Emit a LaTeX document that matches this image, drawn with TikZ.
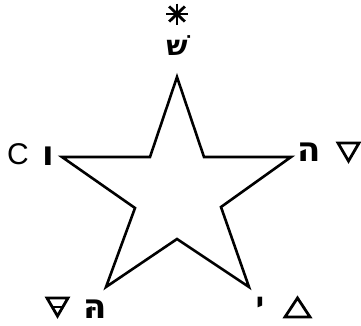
\documentclass[tikz,border=0pt]{standalone}
\usepackage{fontspec}
\setmainfont{Liberation Sans}
\newfontfamily\hebfont[Script=Hebrew]{DejaVu Sans}
\TeXXeTstate=1
\begin{document}
\begin{tikzpicture}[x=1pt,y=-1pt,
  starline/.style={line width=2.6pt,line join=miter},
  sym/.style={line width=2.8pt,line join=miter},
  heb/.style={inner sep=0pt,anchor=base,text depth=0pt,font=\hebfont\bfseries\fontsize{34}{34}\selectfont},
  lat/.style={inner sep=0pt,anchor=base,text depth=0pt,font=\fontsize{30}{30}\selectfont}]
\useasboundingbox (0,0) rectangle (361,325);
% star
\coordinate (T) at (177,77);
\coordinate (R) at (291,157);
\coordinate (BR) at (249,287);
\coordinate (BL) at (106,287);
\coordinate (L) at (62,157);
\coordinate (ia) at (204,157);
\coordinate (ib) at (221,207);
\coordinate (ic) at (177,239);
\coordinate (id) at (135,208);
\coordinate (ie) at (150,157);
\draw[starline] (T) -- (ia) -- (R) -- (ib) -- (BR) -- (ic) -- (BL) -- (id) -- (L) -- (ie) -- cycle;
% asterisk (spirit)
\coordinate (ast) at (177,14);
\draw[sym] ([shift={(0,-10.5)}]ast) -- ([shift={(0,10.5)}]ast);
\draw[sym] ([shift={(-11,0)}]ast) -- ([shift={(11,0)}]ast);
\draw[sym] ([shift={(-7.8,-7.5)}]ast) -- ([shift={(7.8,7.5)}]ast);
\draw[sym] ([shift={(-7.8,7.5)}]ast) -- ([shift={(7.8,-7.5)}]ast);
% letters
\node[heb,font=\hebfont\bfseries\fontsize{28}{28}\selectfont] (shin) at (177,55) {\beginR שׁ\endR};
\node[heb] (vav) at (48,165) {\beginR ו\endR};
\node[lat] (c) at (18,164) {C};
\node[heb] (he1) at (309,161) {\beginR ה\endR};
\node[heb] (he2) at (95,318) {\beginR הּ\endR};
\node[heb,font=\hebfont\bfseries\fontsize{28}{28}\selectfont] (yod) at (260,312) {\beginR י\endR};
% water (down triangle)
\draw[sym] (338,143) -- (359,143) -- (348.5,161) -- cycle;
% fire (up triangle)
\draw[sym] (285,317) -- (310,317) -- (297.5,298) -- cycle;
% earth (down triangle with bar)
\draw[sym] (47,298) -- (68,298) -- (57.5,316) -- cycle;
\draw[sym] (51.5,307) -- (63.5,307);
\end{tikzpicture}
\end{document}
